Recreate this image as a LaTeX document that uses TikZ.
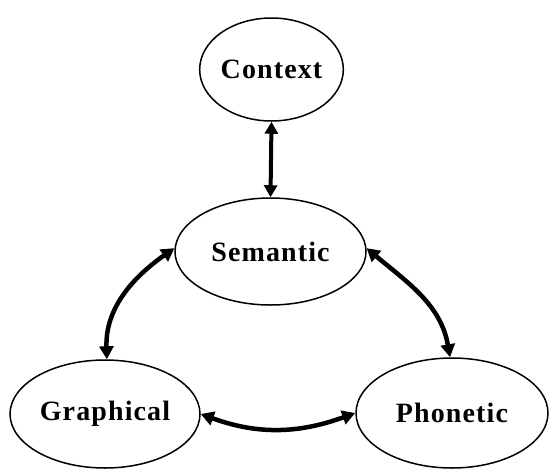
\documentclass[tikz,border=0pt]{standalone}
\usepackage{fontspec}
\setmainfont{Liberation Serif}[LetterSpace=4]
\usetikzlibrary{shapes.geometric,arrows.meta}
\begin{document}
\begin{tikzpicture}[x=1pt,y=-1pt,
  oval/.style={draw,ellipse,line width=1.5pt,inner sep=0pt,
    font=\fontsize{28}{30}\selectfont\bfseries},
  link/.style={line width=4.5pt,{Triangle[length=13pt,width=14pt]}-{Triangle[length=13pt,width=14pt]}},
  vlink/.style={line width=4pt,{Triangle[length=12pt,width=13pt]}-{Triangle[length=12pt,width=13pt]}}]
\useasboundingbox (0,0) rectangle (552,472);
\node[oval,minimum width=137pt,minimum height=103pt] (ctx) at (271.5,69.5) {Context};
\node[oval,minimum width=191pt,minimum height=107pt] (sem) at (270.5,251.5) {Semantic};
\node[oval,minimum width=190pt,minimum height=108pt] (gra) at (105,414) {Graphical};
\node[oval,minimum width=192pt,minimum height=110pt] (pho) at (452,413) {Phonetic};
\draw[vlink] (ctx.south) -- (sem.north);
\draw[link] (sem.178) to[out=215,in=92] (gra.88);
\draw[link] (sem.2) to[out=-40,in=100] (pho.92);
\draw[link] (gra.east) to[out=-20,in=200] (pho.west);
\end{tikzpicture}
\end{document}
